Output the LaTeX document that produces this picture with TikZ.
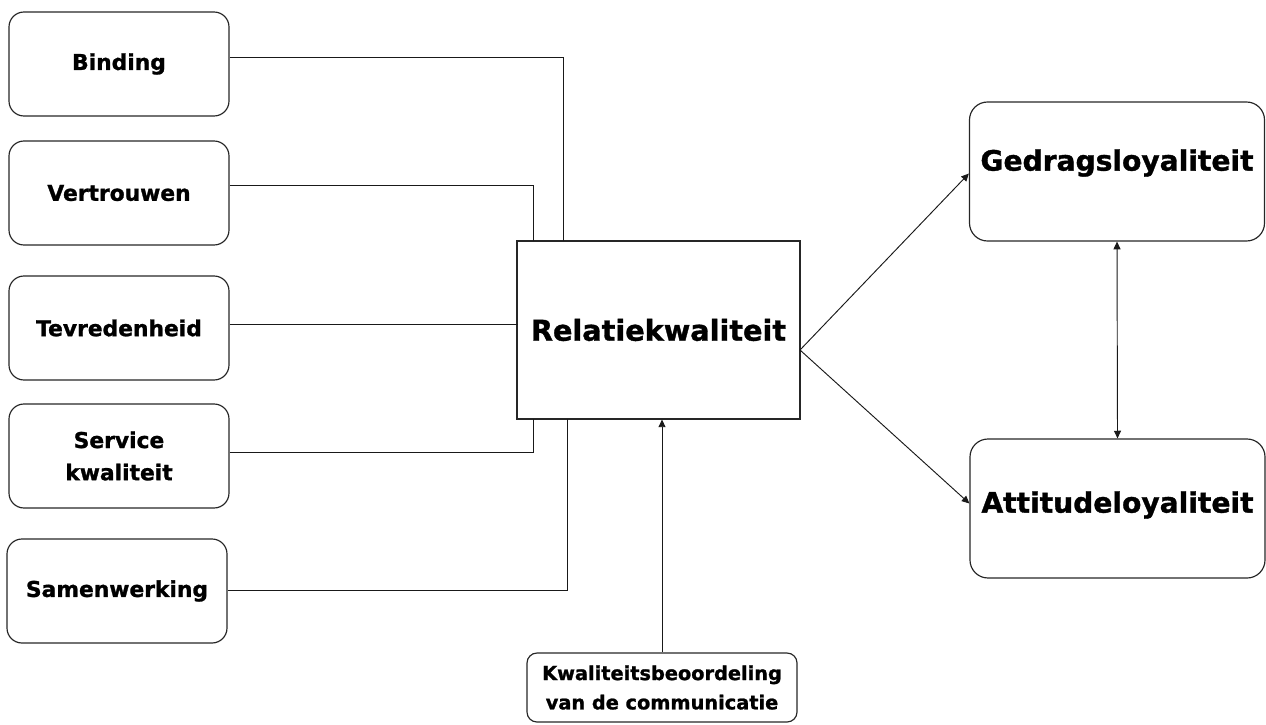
\documentclass[tikz,border=0pt]{standalone}
\usepackage{fontspec}
\setmainfont{DejaVu Sans}[BoldFeatures={FakeBold=1.2}]
\usetikzlibrary{arrows.meta}
\begin{document}
\begin{tikzpicture}[x=0.03cm,y=-0.03cm,
  lbox/.style={draw=black!85,line width=1pt,rounded corners=15*0.03cm,minimum width=6.6cm,minimum height=3.12cm,align=center,inner sep=0pt,font=\bfseries\fontsize{18.6}{27.5}\selectfont},
  bigbox/.style={draw=black!85,line width=1pt,rounded corners=18*0.03cm,minimum width=8.85cm,minimum height=4.17cm,align=center,inner sep=0pt},
  conn/.style={line width=0.8pt,black!90},
  tip/.style={-{Triangle[length=2.3mm,width=2.1mm]}},
]
\useasboundingbox (0,0) rectangle (1266,724);
\node[lbox] (bind) at (119,64) {Binding};
\node[lbox] (vert) at (119,193) {Vertrouwen};
\node[lbox] (tevr) at (119,328) {Tevredenheid};
\node[lbox] (serv) at (119,456) {Service\\kwaliteit};
\node[lbox] (samen) at (117,591) {Samenwerking};
\node[draw=black!85,line width=0.9pt,minimum width=8.49cm,minimum height=5.34cm,inner sep=0pt,font=\bfseries\fontsize{24.5}{28}\selectfont] (rel) at (658.5,330) {Relatiekwaliteit};
\node[bigbox] (gedr) at (1117,171.5) {};
\node[font=\bfseries\fontsize{24}{28}\selectfont] (gedrt) at (1117,163) {Gedragsloyaliteit};
\node[bigbox] (att) at (1117.5,508.5) {};
\node[font=\bfseries\fontsize{24}{28}\selectfont] (attt) at (1117.5,505) {Attitudeloyaliteit};
\node[draw=black!85,line width=1pt,rounded corners=10*0.03cm,minimum width=8.1cm,minimum height=2.07cm,align=center,inner sep=0pt,font=\bfseries\fontsize{16.5}{25}\selectfont] (kwal) at (662,687.5) {Kwaliteitsbeoordeling\\van de communicatie};
\coordinate (c1) at (563,241);
\coordinate (c2) at (533,241);
\coordinate (c4) at (533,419);
\coordinate (c5) at (567,419);
\coordinate (apex) at (800,350);
\draw[conn] ([yshift=7*0.03cm]bind.east) -| (c1);
\draw[conn] ([yshift=8*0.03cm]vert.east) -| (c2);
\draw[conn] ([yshift=4*0.03cm]tevr.east) -- ++(288,0);
\draw[conn] ([yshift=4*0.03cm]serv.east) -| (c4);
\draw[conn] ([yshift=1*0.03cm]samen.east) -| (c5);
\draw[conn,tip] (apex) -- ([yshift=-2*0.03cm]gedr.west);
\draw[conn,tip] (apex) -- ([yshift=5*0.03cm]att.west);
\draw[conn,{Triangle[length=2.3mm,width=2.1mm]}-{Triangle[length=2.3mm,width=2.1mm]}] (gedr.south) -- (att.north);
\draw[conn,tip] (kwal.north) -- (kwal.north |- rel.south);
\end{tikzpicture}
\end{document}
